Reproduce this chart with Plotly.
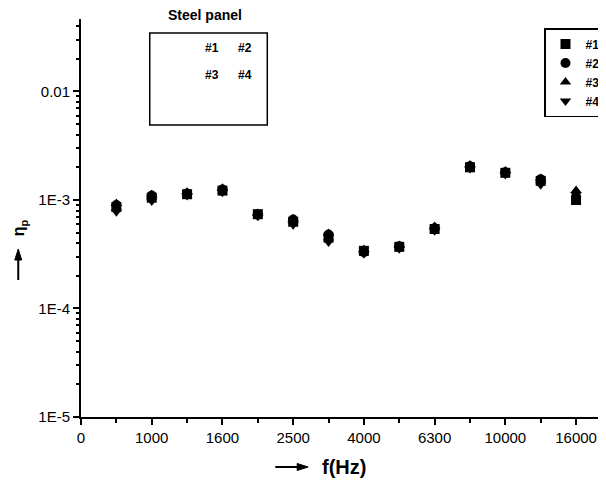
import plotly.graph_objects as go

freq_labels = ["0", "800", "1000", "1250", "1600", "2000", "2500", "3150",
               "4000", "5000", "6300", "8000", "10000", "12500", "16000"]
freq_idx = list(range(1, 15))
panel1 = [8.6e-4, 1.05e-3, 1.13e-3, 1.22e-3, 7.4e-4, 6.3e-4, 4.5e-4, 3.4e-4, 3.7e-4, 5.4e-4, 2.0e-3, 1.78e-3, 1.50e-3, 1.00e-3]
panel2 = [9.0e-4, 1.10e-3, 1.15e-3, 1.25e-3, 7.3e-4, 6.6e-4, 4.8e-4, 3.3e-4, 3.75e-4, 5.5e-4, 2.05e-3, 1.80e-3, 1.55e-3, 1.05e-3]
panel3 = [9.3e-4, 1.12e-3, 1.18e-3, 1.28e-3, 7.5e-4, 6.7e-4, 4.9e-4, 3.5e-4, 3.8e-4, 5.7e-4, 2.10e-3, 1.85e-3, 1.58e-3, 1.22e-3]
panel4 = [7.8e-4, 9.8e-4, 1.10e-3, 1.18e-3, 7.1e-4, 5.9e-4, 4.1e-4, 3.2e-4, 3.55e-4, 5.2e-4, 1.95e-3, 1.72e-3, 1.38e-3, 1.12e-3]
series_names = ["#1", "#2", "#3", "#4"]
y_tickvals = [1e-5, 1e-4, 1e-3, 1e-2]
y_ticktext = ["1E-5", "1E-4", "1E-3", "0.01"]

# page has an 8px body margin: plot area spans target pixels x 81..606, y 19..417
def px(x):
    return (x - 81) / 525.0

def py(y):
    return (417 - y) / 398.0

symbols = ["square", "circle", "triangle-up", "triangle-down"]
fig = go.Figure()
for name, vals, sym in zip(series_names, [panel1, panel2, panel3, panel4], symbols):
    fig.add_trace(go.Scatter(x=freq_idx, y=vals, mode="markers", name=name,
                             marker=dict(symbol=sym, size=10, color="black")))

minor_y = [m * 10 ** e for e in range(-5, -1) for m in range(2, 10)]
fig.update_layout(
    width=598, height=473,
    margin=dict(l=73, r=0, t=11, b=64),
    paper_bgcolor="white", plot_bgcolor="white",
    font=dict(family="Liberation Sans, Arial", color="black", size=15),
    xaxis=dict(range=[0, 14.79], tickmode="array",
               tickvals=list(range(0, 15, 2)),
               ticktext=[freq_labels[i] for i in range(0, 15, 2)],
               ticks="outside", ticklen=6, tickwidth=1.5, tickcolor="black",
               showline=True, linecolor="black", linewidth=2,
               showgrid=False, zeroline=False,
               minor=dict(ticks="outside", ticklen=4, tickvals=list(range(1, 15, 2)),
                          tickcolor="black", showgrid=False)),
    yaxis=dict(type="log", range=[-5, -1.332], tickmode="array",
               tickvals=y_tickvals, ticktext=y_ticktext,
               ticks="outside", ticklen=6, tickwidth=1.5, tickcolor="black",
               showline=True, linecolor="black", linewidth=2,
               showgrid=False, zeroline=False,
               minor=dict(ticks="outside", ticklen=3, tickvals=minor_y,
                          tickcolor="black", showgrid=False)),
    legend=dict(x=px(546), y=py(28), xanchor="left", yanchor="top",
                bordercolor="black", borderwidth=1.5, bgcolor="white",
                font=dict(size=12, family="Liberation Sans, Arial", weight="bold"),
                tracegroupgap=0, itemwidth=30),
    showlegend=True,
)

# "Steel panel" inset box
fig.add_shape(type="rect", xref="paper", yref="paper",
              x0=px(150), x1=px(268), y0=py(125), y1=py(33),
              line=dict(color="black", width=1.5))
fig.add_annotation(text="<b>Steel panel</b>", xref="paper", yref="paper",
                   x=px(205), y=py(15), showarrow=False,
                   xanchor="center", yanchor="middle", font=dict(size=14))
for txt, tx, ty in [("#1", 212, 48), ("#2", 246, 48), ("#3", 212, 75), ("#4", 246, 75)]:
    fig.add_annotation(text="<b>" + txt + "</b>", xref="paper", yref="paper",
                       x=px(tx), y=py(ty), showarrow=False,
                       xanchor="center", yanchor="middle", font=dict(size=12))

# x-axis title with arrow (drawn as shapes)
fig.add_shape(type="line", xref="paper", yref="paper",
              x0=px(276), x1=px(301), y0=py(467), y1=py(467),
              line=dict(color="black", width=2))
fig.add_shape(type="path", xref="paper", yref="paper",
              path="M {} {} L {} {} L {} {} Z".format(px(298), py(463.5), px(309), py(467),
                                                     px(298), py(470.5)),
              fillcolor="black", line=dict(color="black", width=1))
fig.add_annotation(text="<b>f(Hz)</b>", xref="paper", yref="paper",
                   x=px(321), y=py(467), showarrow=False,
                   xanchor="left", yanchor="middle", font=dict(size=20))
# y-axis title with arrow
fig.add_shape(type="line", xref="paper", yref="paper",
              x0=px(18), x1=px(18), y0=py(280), y1=py(257),
              line=dict(color="black", width=2))
fig.add_shape(type="path", xref="paper", yref="paper",
              path="M {} {} L {} {} L {} {} Z".format(px(14.5), py(260), px(18), py(249),
                                                     px(21.5), py(260)),
              fillcolor="black", line=dict(color="black", width=1))
fig.add_annotation(text="<b>η<sub>p</sub></b>", xref="paper", yref="paper",
                   x=px(19), y=py(228), showarrow=False, textangle=-90,
                   xanchor="center", yanchor="middle", font=dict(size=16))

fig.write_html("out.html")
